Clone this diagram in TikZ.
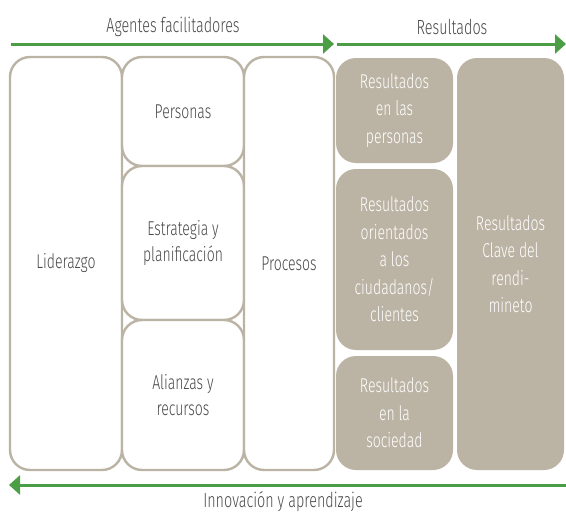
\documentclass[tikz,border=0pt]{standalone}
\usepackage{fontspec}
\setmainfont{Fira Sans Light}[FakeStretch=0.7]
\usetikzlibrary{arrows.meta}
\definecolor{boxc}{HTML}{BBB3A4}
\definecolor{txtc}{HTML}{4A4A4A}
\definecolor{arrc}{HTML}{4C9E46}
\tikzset{
  wbox/.style={draw=boxc, line width=2.4pt, fill=white, rounded corners=20pt, inner sep=0pt, align=center, text=txtc, font=\fontsize{20}{26}\selectfont},
  fbox/.style={fill=boxc, rounded corners=20pt, inner sep=0pt, align=center, text=white, font=\fontsize{20}{27.5}\selectfont},
  grarrow/.style={draw=arrc, line width=3pt, -{Triangle[length=11pt,width=19pt]}},
  title/.style={text=txtc, font=\fontsize{20.5}{22}\selectfont, inner sep=0pt}
}
\begin{document}
\begin{tikzpicture}[x=1pt,y=-1pt]
\useasboundingbox (0,0) rectangle (566,514);
% facilitator boxes
\node[wbox, minimum width=112pt, minimum height=413pt] (lid) at (66,263.5) {Liderazgo};
\node[wbox, minimum width=122pt, minimum height=109pt] (per) at (183,111.5) {Personas};
\node[wbox, minimum width=122pt, minimum height=154pt] (est) at (183,243) {Estrategia y\\planificación};
\node[wbox, minimum width=122pt, minimum height=150pt] (ali) at (183,395) {Alianzas y\\recursos};
\node[wbox, minimum width=90pt, minimum height=413pt] (pro) at (289,263.5) {Procesos};
% result boxes
\node[fbox, minimum width=117pt, minimum height=105pt] (rp) at (394.5,110.5) {Resultados\\en las\\personas};
\node[fbox, minimum width=117pt, minimum height=181pt] (ro) at (394.5,259.5) {Resultados\\orientados\\a los\\ciudadanos/\\clientes};
\node[fbox, minimum width=117pt, minimum height=114pt] (rs) at (394.5,413) {Resultados\\en la\\sociedad};
\node[fbox, minimum width=107pt, minimum height=412pt] (rc) at (510.5,264) {Resultados\\Clave del\\rendi-\\mineto};
% titles
\node[title] (tag) at (173,27) {Agentes facilitadores};
\node[title] (tres) at (452,27) {Resultados};
\node[title] (tinn) at (283,502) {Innovación y aprendizaje};
% arrows
\coordinate (a1s) at (11,44);
\coordinate (a1e) at (334,44);
\coordinate (a2s) at (337,44);
\coordinate (a2e) at (566,44);
\coordinate (a3s) at (566,485);
\coordinate (a3e) at (9,485);
\draw[grarrow] (a1s) -- (a1e);
\draw[grarrow] (a2s) -- (a2e);
\draw[grarrow] (a3s) -- (a3e);
\end{tikzpicture}
\end{document}
